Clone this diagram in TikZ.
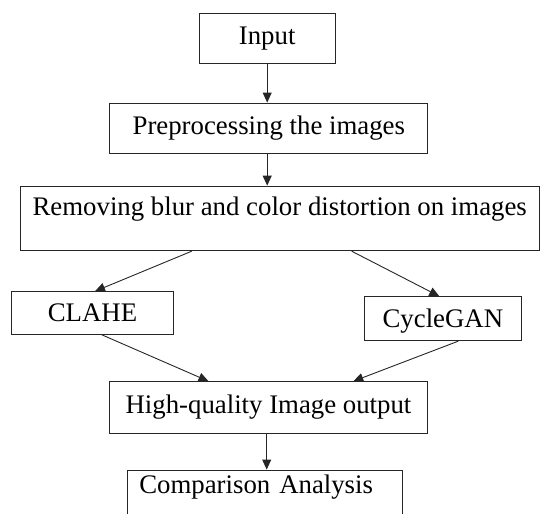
\documentclass[tikz,border=0pt]{standalone}
\usepackage{fontspec}
\setmainfont{Liberation Serif}
\usetikzlibrary{arrows.meta,calc}

\tikzset{
  box/.style={draw=black!85, line width=0.9pt, rectangle, inner xsep=4pt, inner ysep=3pt,
    font=\fontsize{26.8}{31}\selectfont, text height=18.6pt, text depth=6.6pt},
  flow/.style={draw=black!85, line width=0.9pt, -{Triangle[length=10pt,width=9pt]}},
}

\begin{document}
\begin{tikzpicture}[x=1pt, y=-1pt]
  \clip (0,0) rectangle (541,514);
  \useasboundingbox (0,0) rectangle (541,514);

  % process boxes (centre, width, height in picture units)
  \node[box, minimum width=135.7pt, minimum height=50pt] (inp) at (267.2,38.3) {Input};
  \node[box, minimum width=318.2pt, minimum height=50pt] (pre) at (268.8,128) {Preprocessing the images};
  \node[box, minimum width=519.3pt, minimum height=64.7pt, text depth=25.4pt] (rem) at (279.7,218.4)
    {Removing blur and color distortion on images};
  \node[box, minimum width=161.6pt, minimum height=42.6pt, text height=22.6pt] (cla) at (92.5,313) {CLAHE};
  \node[box, minimum width=157.7pt, minimum height=44pt, text height=23.8pt] (cyc) at (442.9,318.7) {CycleGAN};
  \node[box, minimum width=318.4pt, minimum height=51.6pt] (hq) at (268.5,407.5) {High-quality Image output};
  \node[box, minimum width=275pt, minimum height=60pt, inner xsep=12pt, text width=251pt,
    align=left, text depth=32pt] (cmp) at (264.8,500) {Comparison Analysis};

  % connectors
  \draw[flow] (inp.south) -- (inp.south |- pre.north);
  \draw[flow] ([xshift=-1.6pt]pre.south) -- ([xshift=-1.6pt]pre.south |- rem.north);
  \draw[flow] ([xshift=-88pt]rem.south) -- ([xshift=2.5pt]cla.north);
  \draw[flow] ([xshift=72pt]rem.south) -- ([xshift=-3.6pt]cyc.north);
  \draw[flow] ([xshift=9.2pt]cla.south) -- ([xshift=-60pt]hq.north);
  \draw[flow] ([xshift=15.4pt]cyc.south) -- ([xshift=84.8pt]hq.north);
  \draw[flow] ([xshift=-1.8pt]hq.south) -- ([xshift=-1.8pt]hq.south |- cmp.north);
\end{tikzpicture}
\end{document}
